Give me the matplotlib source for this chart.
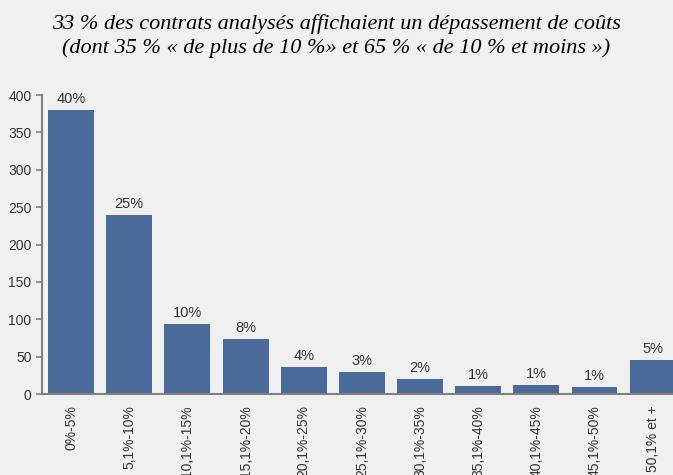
import matplotlib

matplotlib.use("Agg")
import matplotlib.pyplot as plt

categories = ["0%-5%", "5,1%-10%", "10,1%-15%", "15,1%-20%", "20,1%-25%",
              "25,1%-30%", "30,1%-35%", "35,1%-40%", "40,1%-45%", "45,1%-50%",
              "50,1% et +"]
counts = [380, 240, 94, 74, 36, 30, 20, 11, 12, 10, 46]
shares = ["40%", "25%", "10%", "8%", "4%", "3%", "2%", "1%", "1%", "1%", "5%"]

title = ("33 % des contrats analysés affichaient un dépassement de coûts\n"
         "(dont 35 % « de plus de 10 %» et 65 % « de 10 % et moins »)")

bg = "#f0f0f0"
bar_color = "#4a6a9a"
text_color = "#333333"

fig = plt.figure(figsize=(6.73, 4.75), dpi=100, facecolor=bg)
ax = fig.add_axes([0.0624, 0.1705, 0.9376, 0.6295], facecolor=bg)

x = list(range(len(categories)))
ax.bar(x, counts, width=0.79, color=bar_color, zorder=2)
for xi, c, s in zip(x, counts, shares):
    ax.text(xi, c + 5, s, ha="center", va="bottom", fontsize=10.5,
            color=text_color, family="Liberation Sans")

ax.set_xlim(-0.5, 10.35)
ax.set_ylim(0, 400)
ax.set_yticks(range(0, 401, 50))
ax.set_xticks(x)
# long labels run off the bottom edge, as in the source chart
ax.set_xticklabels(categories, rotation=90, fontsize=10, color=text_color,
                   family="Liberation Sans")
ax.tick_params(axis="x", length=0, pad=8)
ax.tick_params(axis="y", length=4, width=1.2, color="#808080", labelsize=10,
               labelcolor=text_color)
for lab in ax.get_yticklabels():
    lab.set_family("Liberation Sans")

for side in ("top", "right"):
    ax.spines[side].set_visible(False)
for side in ("left", "bottom"):
    ax.spines[side].set_color("#808080")
    ax.spines[side].set_linewidth(1.5)

fig.text(0.5, 0.97, title, ha="center", va="top", fontsize=16,
         style="italic", family="Liberation Serif", color="black",
         linespacing=1.3)

fig.savefig("out.png", dpi=100, facecolor=bg)
